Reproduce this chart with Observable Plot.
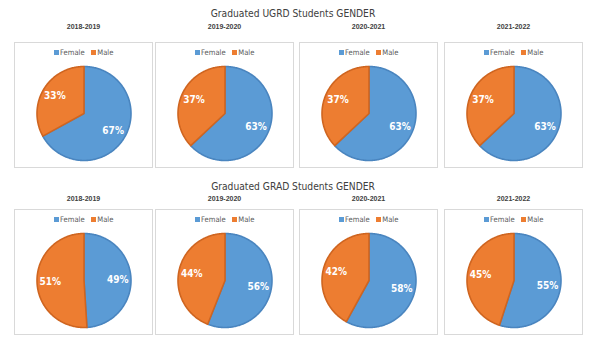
<!DOCTYPE html>
<html><head><meta charset="utf-8">
<script src="https://cdn.jsdelivr.net/npm/d3@7"></script>
<script src="https://cdn.jsdelivr.net/npm/@observablehq/plot@0.6"></script>
<style>
body{margin:0;background:#fff;width:602px;height:342px;position:relative;overflow:hidden;font-family:"Liberation Sans",Arial,sans-serif;}
.title{position:absolute;left:0;width:586px;text-align:center;font-family:"Liberation Sans Narrow","DejaVu Sans Condensed",sans-serif;font-size:10.2px;color:#404040;line-height:14px;}
.year{position:absolute;width:139px;text-align:center;font-weight:bold;font-size:7px;color:#404040;line-height:8px;}
.box{position:absolute;width:137px;height:124px;border:1px solid #d9d9d9;background:#fff;}
.box svg{position:absolute;left:0;top:0;}
.leg{position:absolute;left:0;top:5px;width:137px;display:flex;justify-content:center;align-items:center;font-family:"DejaVu Sans Condensed","Liberation Sans",sans-serif;font-size:7.6px;color:#595959;line-height:9px;}
.leg .item{display:inline-flex;align-items:center;margin:0 3px;}
.leg .sw{display:inline-block;width:5px;height:5px;margin-right:1.5px;}
</style>
</head><body>
<script>
const categories = ["Female", "Male"];
const colors = ["#5B9BD5", "#ED7D31"];
const strokes = ["#4a85bf", "#cf6520"];
const years = ["2018-2019", "2019-2020", "2020-2021", "2021-2022"];
const titles = ["Graduated UGRD Students GENDER", "Graduated GRAD Students GENDER"];
const ugrdFemale = [67, 63, 63, 63];
const ugrdMale = [33, 37, 37, 37];
const gradFemale = [49, 56, 58, 55];
const gradMale = [51, 44, 42, 45];

const boxLeft = [14, 155, 299, 444];
const rowTop = [42, 208];
const titleTop = [7, 180];
const yearTop = [23, 195];
const rows = [[ugrdFemale, ugrdMale], [gradFemale, gradMale]];

const W = 137, H = 124, R = 47, CX = 68.5, CY = 70;

function pieData(values) {
  const arcs = d3.pie().sort(null).value(d => d.value)(values.map((v, i) => ({cat: categories[i], value: v})));
  const pts = [], labels = [];
  arcs.forEach(a => {
    const n = Math.max(2, Math.ceil((a.endAngle - a.startAngle) / (Math.PI / 180)));
    pts.push({cat: a.data.cat, x: 0, y: 0});
    for (let k = 0; k <= n; k++) {
      const t = a.startAngle + (a.endAngle - a.startAngle) * k / n;
      pts.push({cat: a.data.cat, x: Math.sin(t), y: Math.cos(t)});
    }
    pts.push({cat: a.data.cat, x: 0, y: 0});
    const m = (a.startAngle + a.endAngle) / 2;
    labels.push({cat: a.data.cat, x: 0.72 * Math.sin(m), y: 0.72 * Math.cos(m), text: a.data.value + "%"});
  });
  return {pts, labels};
}

function legend() {
  const leg = document.createElement("div");
  leg.className = "leg";
  categories.forEach((cat, i) => {
    const it = document.createElement("span"); it.className = "item";
    const sw = document.createElement("span"); sw.className = "sw"; sw.style.background = colors[i];
    it.appendChild(sw);
    it.appendChild(document.createTextNode(cat));
    leg.appendChild(it);
  });
  return leg;
}

rows.forEach((series, r) => {
  const t = document.createElement("div");
  t.className = "title"; t.style.top = titleTop[r] + "px"; t.textContent = titles[r];
  document.body.appendChild(t);
  years.forEach((yr, c) => {
    const yl = document.createElement("div");
    yl.className = "year"; yl.style.left = boxLeft[c] + "px"; yl.style.top = yearTop[r] + "px"; yl.textContent = yr;
    document.body.appendChild(yl);
    const box = document.createElement("div");
    box.className = "box"; box.style.left = boxLeft[c] + "px"; box.style.top = (rowTop[r] + r) + "px";
    document.body.appendChild(box);
    const {pts, labels} = pieData([series[0][c], series[1][c]]);
    const chart = Plot.plot({
      width: W, height: H, margin: 0,
      x: {domain: [-CX / R, (W - CX) / R], axis: null},
      y: {domain: [-(H - CY) / R, CY / R], axis: null},
      color: {domain: categories, range: colors},
      style: {background: "transparent", overflow: "visible"},
      marks: [
        Plot.line(pts, {x: "x", y: "y", z: "cat", fill: "cat",
          stroke: d => strokes[categories.indexOf(d.cat)], strokeWidth: 1.6, strokeLinejoin: "round", curve: "linear"}),
        Plot.text(labels, {x: "x", y: "y", text: "text", fill: "white", fontWeight: "bold",
          fontSize: 10, fontFamily: "'Liberation Sans Narrow','DejaVu Sans Condensed',sans-serif"})
      ]
    });
    box.appendChild(chart);
    box.appendChild(legend());
  });
});
</script>
</body></html>
